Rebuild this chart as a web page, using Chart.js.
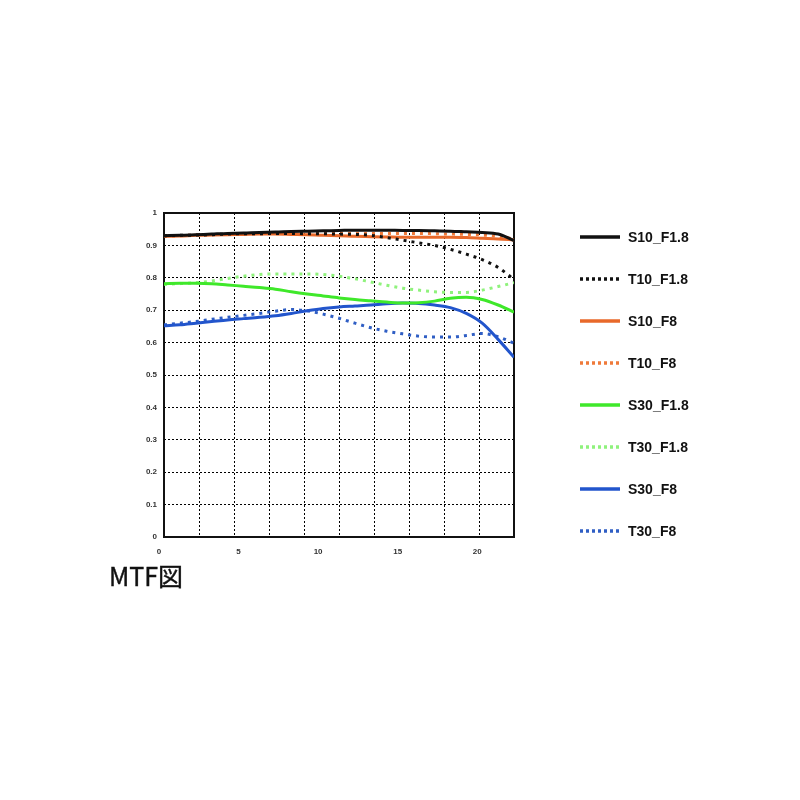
<!DOCTYPE html>
<html>
<head>
<meta charset="utf-8">
<script src="https://cdn.jsdelivr.net/npm/chart.js@4.4.1/dist/chart.umd.min.js"></script>
<style>
  body { margin: 0; background: #fff; }
  #wrap { position: relative; width: 800px; height: 800px; }
  #mtfTitle {
    position: absolute; left: 109px; top: 563px;
    font-family: "Noto Sans CJK JP", "Noto Sans", sans-serif;
    font-size: 25px; line-height: 25px; color: #111;
    -webkit-text-stroke: 0.4px #111;
  }
</style>
</head>
<body>
<div id="wrap">
  <canvas id="mtfChart" width="800" height="800"></canvas>
  <div id="mtfTitle">MTF図</div>
</div>
<script>
// image height (mm) sampled every 1 mm
const imageHeight = [0, 1, 2, 3, 4, 5, 6, 7, 8, 9, 10, 11, 12, 13, 14, 15, 16, 17, 18, 19, 20, 21, 22];

const s10F18 = [0.930, 0.931, 0.933, 0.935, 0.937, 0.938, 0.940, 0.941, 0.943, 0.944, 0.945, 0.946, 0.947, 0.947, 0.947, 0.946, 0.946, 0.945, 0.944, 0.942, 0.940, 0.935, 0.915];
const t10F18 = [0.930, 0.931, 0.932, 0.933, 0.935, 0.936, 0.936, 0.937, 0.937, 0.936, 0.936, 0.935, 0.934, 0.931, 0.924, 0.916, 0.908, 0.900, 0.888, 0.873, 0.856, 0.832, 0.795];
const s10F8 = [0.928, 0.929, 0.931, 0.932, 0.933, 0.934, 0.935, 0.935, 0.934, 0.933, 0.931, 0.930, 0.928, 0.927, 0.926, 0.925, 0.925, 0.925, 0.925, 0.924, 0.922, 0.920, 0.917];
const t10F8 = [0.928, 0.930, 0.932, 0.933, 0.934, 0.935, 0.936, 0.936, 0.937, 0.937, 0.937, 0.937, 0.937, 0.937, 0.937, 0.937, 0.937, 0.936, 0.935, 0.934, 0.932, 0.928, 0.920];
const s30F18 = [0.782, 0.783, 0.783, 0.782, 0.778, 0.774, 0.770, 0.765, 0.757, 0.750, 0.744, 0.738, 0.733, 0.729, 0.725, 0.722, 0.723, 0.728, 0.737, 0.740, 0.733, 0.716, 0.694];
const t30F18 = [0.780, 0.782, 0.785, 0.790, 0.798, 0.805, 0.810, 0.812, 0.812, 0.812, 0.810, 0.805, 0.797, 0.787, 0.777, 0.768, 0.762, 0.757, 0.755, 0.755, 0.762, 0.773, 0.785];
const s30F8 = [0.652, 0.655, 0.660, 0.665, 0.670, 0.674, 0.678, 0.683, 0.690, 0.698, 0.705, 0.710, 0.713, 0.716, 0.720, 0.722, 0.721, 0.716, 0.708, 0.690, 0.660, 0.610, 0.555];
const t30F8 = [0.655, 0.660, 0.665, 0.672, 0.678, 0.684, 0.690, 0.697, 0.702, 0.698, 0.688, 0.675, 0.660, 0.646, 0.635, 0.627, 0.620, 0.617, 0.617, 0.622, 0.628, 0.618, 0.598];

const seriesNames = ["S10_F1.8", "T10_F1.8", "S10_F8", "T10_F8", "S30_F1.8", "T30_F1.8", "S30_F8", "T30_F8"];
const seriesValues = [s10F18, t10F18, s10F8, t10F8, s30F18, t30F18, s30F8, t30F8];
const seriesColors = ["#111111", "#111111", "#e8692a", "#ef7a3a", "#3fe82a", "#8ff27c", "#2255cc", "#2f5ec4"];
const seriesDotted = [false, true, false, true, false, true, false, true];

const xLabelTicks = [0, 5, 10, 15, 20];
const xGridTicks = [0, 2.2, 4.4, 6.6, 8.8, 11, 13.2, 15.4, 17.6, 19.8, 22];

const tickFont = { family: "Liberation Sans", size: 8, weight: "bold" };

// box around the plot area
const frameBox = {
  id: "frameBox",
  beforeDatasetsDraw(chart) {
    const a = chart.chartArea;
    const c = chart.ctx;
    c.save();
    c.strokeStyle = "#111";
    c.lineWidth = 2;
    c.strokeRect(a.left, a.top, a.right - a.left, a.bottom - a.top);
    c.restore();
  }
};

// legend on the right, one row per series
const sideLegend = {
  id: "sideLegend",
  afterDraw(chart) {
    const c = chart.ctx;
    c.save();
    chart.data.datasets.forEach((ds, i) => {
      const y = 237 + i * 42;
      c.beginPath();
      c.strokeStyle = ds.borderColor;
      c.lineWidth = 3.5;
      c.setLineDash(ds.borderDash.length ? [3, 3] : []);
      c.moveTo(580, y);
      c.lineTo(620, y);
      c.stroke();
      c.setLineDash([]);
      c.fillStyle = "#111";
      c.font = "bold 14px 'Liberation Sans', Arial, sans-serif";
      c.textBaseline = "middle";
      c.textAlign = "left";
      c.fillText(ds.label, 628, y + 1);
    });
    c.restore();
  }
};

const ctx = document.getElementById("mtfChart");

const mtfChart = new Chart(ctx, {
  type: "line",
  data: {
    datasets: seriesNames.map((name, i) => ({
      label: name,
      data: imageHeight.map((x, j) => ({ x: x, y: seriesValues[i][j] })),
      borderColor: seriesColors[i],
      backgroundColor: seriesColors[i],
      borderWidth: 3,
      borderDash: seriesDotted[i] ? [3, 5] : [],
      pointRadius: 0,
      cubicInterpolationMode: "monotone",
      fill: false
    }))
  },
  options: {
    responsive: false,
    animation: false,
    layout: {
      padding: { left: 0, right: 286, top: 213, bottom: 233 }
    },
    plugins: {
      legend: { display: false },
      tooltip: { enabled: false }
    },
    scales: {
      x: {
        type: "linear",
        min: 0,
        max: 22,
        afterBuildTicks: scale => {
          scale.ticks = xLabelTicks.map(v => ({ value: v }));
        },
        afterFit: scale => {
          scale.height = 30;
        },
        grid: { display: false, drawTicks: false },
        border: { display: false },
        ticks: {
          padding: 10,
          labelOffset: -5,
          color: "#333",
          font: tickFont,
          maxRotation: 0
        }
      },
      xg: {
        type: "linear",
        position: "bottom",
        min: 0,
        max: 22,
        afterBuildTicks: scale => {
          scale.ticks = xGridTicks.map(v => ({ value: v }));
        },
        afterFit: scale => {
          scale.height = 0;
        },
        grid: { color: "#000", lineWidth: 1, drawTicks: false },
        border: { display: false, dash: [2, 2] },
        ticks: { display: false }
      },
      y: {
        min: 0,
        max: 1,
        afterFit: scale => {
          scale.width = 164;
        },
        grid: { color: "#000", lineWidth: 1, drawTicks: false },
        border: { display: false, dash: [2, 2] },
        ticks: {
          stepSize: 0.1,
          padding: 7,
          color: "#333",
          font: tickFont,
          callback: v => String(+v.toFixed(1))
        }
      }
    }
  },
  plugins: [frameBox, sideLegend]
});
</script>
</body>
</html>
